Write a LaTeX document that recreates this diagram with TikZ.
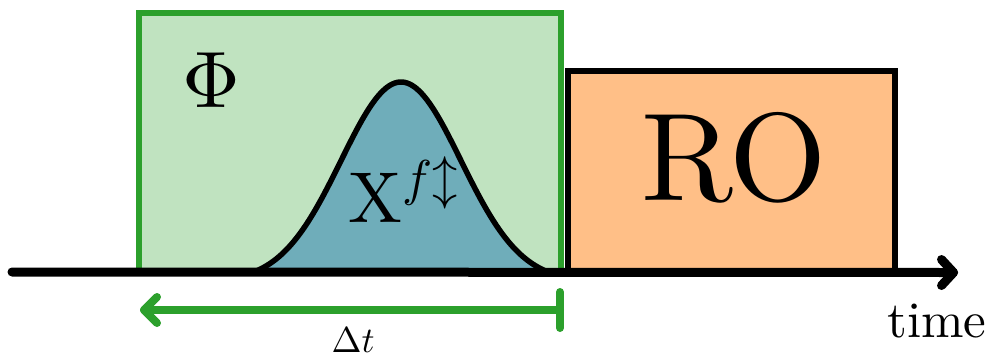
\documentclass[tikz,border=0pt]{standalone}
\usepackage{fontspec}
\setmainfont{lmroman10-regular.otf}
\DeclareFontShape{OT1}{cmr}{m}{n}{<->cmr10}{}
\DeclareFontShape{OML}{cmm}{m}{it}{<->cmmi10}{}
\DeclareFontShape{OMS}{cmsy}{m}{n}{<->cmsy10}{}
\usetikzlibrary{calc}
\definecolor{tgreen}{HTML}{2CA02C}
\definecolor{lgreen}{HTML}{C0E3C0}
\definecolor{lorange}{HTML}{FFBF87}
\definecolor{lteal}{HTML}{6FADBA}
\tikzset{
  box/.style={rectangle, inner sep=0pt, outer sep=0pt, line width=6pt},
  lbl/.style={inner sep=0pt, outer sep=0pt},
}
\begin{document}
\begin{tikzpicture}[x=1pt,y=-1pt]
\useasboundingbox (0,0) rectangle (994,360);
% phase box
\node[box, draw=tgreen, fill=lgreen, minimum width=422pt, minimum height=259pt] (phi) at (350,142.5) {};
% gaussian pulse
\draw[line width=5.5pt, fill=lteal, line join=round]
  plot[domain=-2.45:2.45, samples=120, smooth] ({401+60*\x}, {272-190*(exp(-(\x*\x)/2)-0.0497)/0.9503}) -- cycle;
% readout box
\node[box, draw=black, fill=lorange, minimum width=327pt, minimum height=201pt] (ro) at (731.5,171.5) {};
% time axis
\coordinate (t0) at (12,272);
\coordinate (t1) at (953.5,272.5);
\draw[line width=9pt, line cap=round] (t0) -- (t1);
\draw[line width=9pt, line cap=round, line join=round] ([shift={(-12,-13)}]t1) -- (t1) -- ++(-12,13);
% delta t arrow
\coordinate (d0) at (144,310);
\coordinate (d1) at (560,310);
\draw[tgreen, line width=8pt, line cap=round] (d0) -- (d1);
\draw[tgreen, line width=8pt, line cap=round, line join=round] ([shift={(13,-13)}]d0) -- (d0) -- ++(13,13);
\draw[tgreen, line width=8pt, line cap=round] ([shift={(0,-18)}]d1) -- ++(0,36);
% labels
\node[lbl] (phil) at (211,80) {\fontsize{80}{90}\selectfont$\Phi$};
\node[lbl] (rol) at (734,158) {\fontsize{125}{130}\selectfont RO};
\node[lbl, anchor=base west] (xl) at (348,222) {\fontsize{72}{80}\selectfont$\mathrm{X}^{f\updownarrow}$};
\node[lbl, anchor=base] (dtl) at (353,352.5) {\fontsize{36}{40}\selectfont$\Delta t$};
\node[lbl, anchor=base] (timel) at (937,337) {\fontsize{51}{55}\selectfont time};
\end{tikzpicture}
\end{document}
